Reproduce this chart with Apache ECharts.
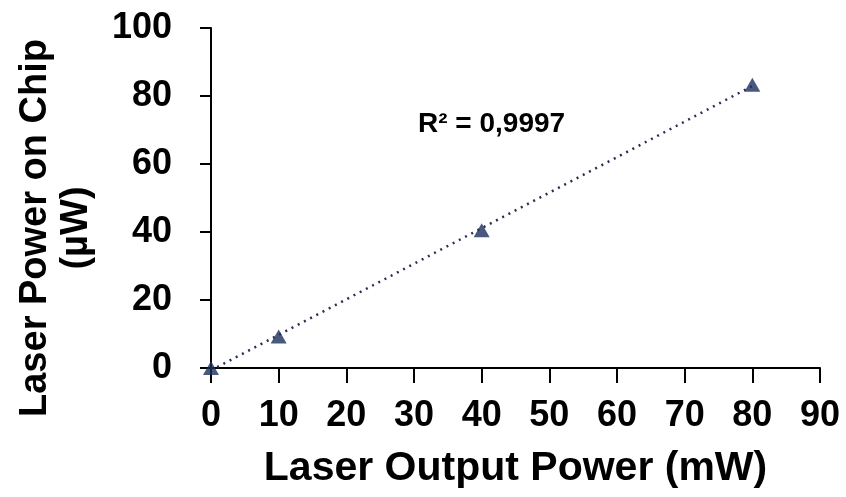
<!DOCTYPE html>
<html>
<head>
<meta charset="utf-8">
<script src="https://cdn.jsdelivr.net/npm/echarts@6/dist/echarts.min.js"></script>
<style>
  html, body { margin: 0; padding: 0; background: #fff; }
  #main { width: 846px; height: 497px; }
</style>
</head>
<body>
<div id="main"></div>
<script>
// 数据
var outputPower = [0, 10, 40, 80];      // mW
var chipPower = [0, 9.3, 40.5, 83.3];   // µW
var r2Text = 'R² = 0,9997';

// 线性拟合 (趋势线)
function linFit(xs, ys) {
    var n = xs.length, mx = 0, my = 0;
    for (var i = 0; i < n; i++) { mx += xs[i]; my += ys[i]; }
    mx /= n; my /= n;
    var sxy = 0, sxx = 0;
    for (var i = 0; i < n; i++) {
        sxy += (xs[i] - mx) * (ys[i] - my);
        sxx += (xs[i] - mx) * (xs[i] - mx);
    }
    var k = sxy / sxx;
    return {k: k, b: my - k * mx};
}
var fit = linFit(outputPower, chipPower);
var xMin = Math.min.apply(null, outputPower), xMax = Math.max.apply(null, outputPower);
var trend = [[xMin, fit.k * xMin + fit.b], [xMax, fit.k * xMax + fit.b]];

var points = outputPower.map(function (x, i) { return [x, chipPower[i]]; });

var font = 'Arial, "Liberation Sans", sans-serif';
var myChart = echarts.init(document.getElementById('main'));
var option = {
    animation: false,
    grid: {left: 211, right: 26, top: 28, bottom: 129, containLabel: false},
    xAxis: {
        type: 'value',
        min: 0, max: 90, interval: 10,
        name: 'Laser Output Power (mW)',
        nameLocation: 'middle',
        nameGap: 80,
        nameTextStyle: {fontFamily: font, fontWeight: 'bold', fontSize: 41, color: '#000'},
        axisLine: {show: true, lineStyle: {color: '#000', width: 2}},
        axisTick: {show: true, length: 15, lineStyle: {color: '#000', width: 2}},
        axisLabel: {fontFamily: font, fontWeight: 'bold', fontSize: 36, color: '#000', margin: 30},
        splitLine: {show: false}
    },
    yAxis: {
        type: 'value',
        min: 0, max: 100, interval: 20,
        axisLine: {show: true, lineStyle: {color: '#000', width: 2}},
        axisTick: {show: true, length: 11, lineStyle: {color: '#000', width: 2}},
        axisLabel: {
            fontFamily: font, fontWeight: 'bold', fontSize: 36, color: '#000', margin: 39,
            padding: [0, 0, 12, 0]
        },
        splitLine: {show: false}
    },
    graphic: [{
        type: 'text',
        x: 56,
        y: 228,
        rotation: Math.PI / 2,
        style: {
            text: 'Laser Power on Chip\n(µW)',
            fontFamily: font, fontWeight: 'bold', fontSize: 38, lineHeight: 41,
            fill: '#000', align: 'center', verticalAlign: 'middle'
        }
    }, {
        type: 'text',
        left: 418,
        top: 110,
        style: {text: r2Text, fontFamily: font, fontWeight: 'bold', fontSize: 28, fill: '#000'}
    }],
    series: [{
        name: 'trend',
        type: 'line',
        data: trend,
        symbol: 'none',
        lineStyle: {type: [2, 5], width: 2.5, color: '#28304f'},
        z: 2
    }, {
        name: 'data',
        type: 'scatter',
        data: points,
        symbol: 'triangle',
        symbolSize: [16, 14],
        itemStyle: {color: '#1b2f5e'},
        z: 3
    }]
};
myChart.setOption(option);
</script>
</body>
</html>
